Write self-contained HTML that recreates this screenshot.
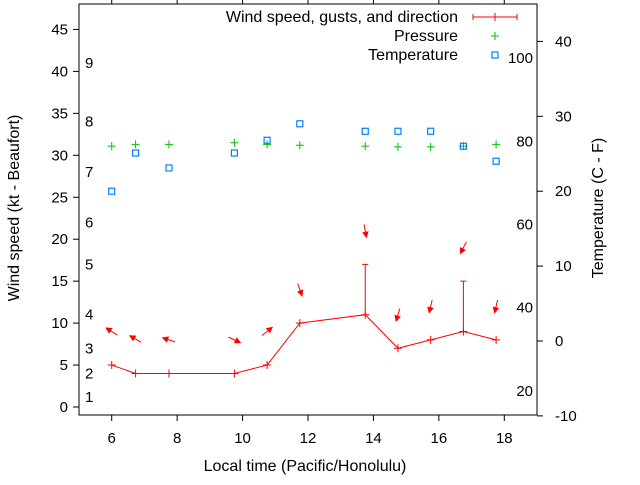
<!DOCTYPE html>
<html><head><meta charset="utf-8"><style>
body{margin:0;background:#fff}
svg text{font-family:"Liberation Sans",sans-serif;font-size:15px;fill:#000}
svg text.big{font-size:16px}
</style></head><body>
<svg id="c" width="640" height="480" xmlns="http://www.w3.org/2000/svg"></svg>
<script>
const times=[6.0,6.73,7.75,9.75,10.75,11.75,13.75,14.75,15.75,16.75,17.75];
const windSpeed=[5,4,4,4,5,10,11,7,8,9,8];
const windGust=[null,null,null,null,null,null,17,null,null,15,null];
const arrowLevel=[9,8.1,8,8,9,14,21,11,12,19,12];
const arrowAngle=[148,150,162,-25,39,-70,-80,-107,-103,-117,-103];
const pressure=[31.1,31.3,31.3,31.5,31.3,31.2,31.1,31.0,31.0,31.1,31.3];
const tempC=[20,25.1,23.1,25.1,26.8,29,28,28,28,26,24];
const xTicks=[6,8,10,12,14,16,18];
const yTicks=[0,5,10,15,20,25,30,35,40,45];
const y2Ticks=[-10,0,10,20,30,40];
const beaufortLabels=["1","2","3","4","5","6","7","8","9"];
const beaufortPos=[1.2,4,7,11,17,22,28,34,41];
const fLabels=[20,40,60,80,100];

const L=79,R=537,T=4,B=415;
const X=v=>L+(v-5)/(19-5)*(R-L);
const Y=v=>407-v*8.39;
const Y2=c=>341-c*7.49;
const svg=document.getElementById('c');
const NS='http://www.w3.org/2000/svg';
function mk(tag,attrs,parent){const e=document.createElementNS(NS,tag);for(const k in attrs)e.setAttribute(k,attrs[k]);(parent||svg).appendChild(e);return e;}
function txt(s,x,y,anchor,name,cls){const t=mk('text',{x:x,y:y,'text-anchor':anchor});t.textContent=s;if(cls)t.setAttribute('class',cls);


return t;}

const fr=mk('rect',{x:L,y:T,width:R-L,height:B-T,fill:'none',stroke:'#000','stroke-width':1});


xTicks.forEach(v=>{const x=X(v);
 mk('line',{x1:x,y1:B,x2:x,y2:B+6,stroke:'#000'});mk('line',{x1:x,y1:T,x2:x,y2:T-6,stroke:'#000'});
 txt(String(v),x,443,'middle','x-tick-label');});
yTicks.forEach(v=>{const y=Y(v);mk('line',{x1:L-6,y1:y,x2:L,y2:y,stroke:'#000'});txt(String(v),L-11,y+5,'end','y-tick-label');});
y2Ticks.forEach(v=>{const y=Y2(v);mk('line',{x1:R,y1:y,x2:R+6,y2:y,stroke:'#000'});txt(String(v),R+18,y+5,'start','y2-tick-label');});
beaufortLabels.forEach((s,i)=>txt(s,85,Y(beaufortPos[i])+5,'start','beaufort-label'));
fLabels.forEach(f=>txt(String(f),533,Y2((f-32)*5/9)+5,'end','fahrenheit-label'));

txt('Local time (Pacific/Honolulu)',305,471,'middle','x-axis-title','big');
const yt=txt('Wind speed (kt - Beaufort)',0,0,'middle','y-axis-title','big');yt.setAttribute('transform','translate(19,208) rotate(-90)');
const y2t=txt('Temperature (C - F)',0,0,'middle','y2-axis-title','big');y2t.setAttribute('transform','translate(603,208) rotate(-90)');

const red='#f00';
let d='';times.forEach((t,i)=>{d+=(i?'L':'M')+X(t)+' '+Y(windSpeed[i]);});
const wl=mk('path',{d:d,fill:'none',stroke:red,'stroke-width':1});


times.forEach((t,i)=>{const x=X(t),y=Y(windSpeed[i]);
 const g=mk('g',{});
 
 
 mk('path',{d:`M${x-4} ${y}H${x+4}M${x} ${y-4}V${y+4}`,stroke:red},g);
 if(windGust[i]!=null){const yg=Y(windGust[i]);mk('path',{d:`M${x} ${y}V${yg}M${x-3} ${yg}H${x+3}`,stroke:red},g);}
});
times.forEach((t,i)=>{const cx=X(t),cy=Y(arrowLevel[i]);const a=arrowAngle[i]*Math.PI/180;
 const dx=Math.cos(a)*6.5,dy=-Math.sin(a)*6.5;
 const hx=cx+dx,hy=cy+dy,tx=cx-dx,ty=cy-dy;
 const ux=Math.cos(a),uy=-Math.sin(a);const px=-uy,py=ux;
 const g=mk('g',{});
 
 
 mk('line',{x1:tx,y1:ty,x2:hx,y2:hy,stroke:red},g);
 const bx=hx-ux*5,by=hy-uy*5;
 mk('polygon',{points:`${hx},${hy} ${bx+px*2.5},${by+py*2.5} ${bx-px*2.5},${by-py*2.5}`,fill:red,stroke:red},g);
});
times.forEach((t,i)=>{const x=X(t),y=Y(pressure[i]);
 const p=mk('path',{d:`M${x-4} ${y}H${x+4}M${x} ${y-4}V${y+4}`,stroke:'#00c000'});
 
 });
times.forEach((t,i)=>{const x=X(t),y=Y2(tempC[i]);
 const r=mk('rect',{x:x-3,y:y-3,width:6,height:6,fill:'none',stroke:'#0080ff','stroke-width':1.2});
 
 });
const lg=mk('g',{});


txt('Wind speed, gusts, and direction',458,22,'end','legend-wind-label','big');
txt('Pressure',458,41,'end','legend-pressure-label','big');
txt('Temperature',458,60,'end','legend-temperature-label','big');
mk('path',{d:'M473 17H517M473 14V20M517 14V20M495 13V21',stroke:red},lg);
mk('path',{d:'M491 36H499M495 32V40',stroke:'#00c000'},lg);
mk('rect',{x:492,y:52,width:6,height:6,fill:'none',stroke:'#0080ff','stroke-width':1.2},lg);
</script>
</body></html>
